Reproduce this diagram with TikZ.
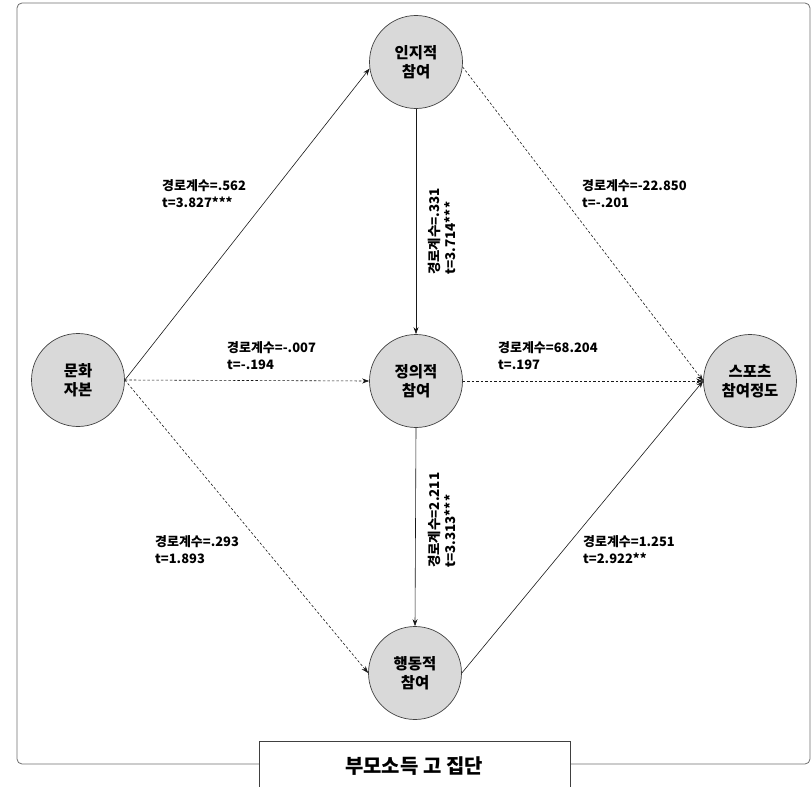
\documentclass[tikz,border=0pt]{standalone}
\usepackage{fontspec}
\setmainfont{Noto Sans CJK KR}
\usetikzlibrary{arrows.meta}
\definecolor{nodefill}{HTML}{D9D9D9}
\definecolor{framegray}{HTML}{6E6E6E}
\begin{document}
\begin{tikzpicture}[x=1bp,y=-1bp,
  circ/.style={circle, draw=black!75, fill=nodefill, line width=0.7bp, minimum size=93bp, inner sep=0pt, align=center, font=\bfseries\fontsize{15.5}{19}\selectfont},
  lbl/.style={anchor=west, align=left, inner sep=0pt, font=\bfseries\fontsize{13}{17}\selectfont},
  vlbl/.style={rotate=90, anchor=north west, align=left, inner sep=0pt, font=\bfseries\fontsize{13.5}{16.5}\selectfont},
  arr/.style={-{Stealth[length=7bp,width=5bp]}, line width=0.6bp, draw=black!90},
  dsh/.style={arr, dash pattern=on 2.5bp off 2bp},
  frame/.style={draw=framegray, line width=0.8bp, rounded corners=5bp}]
\useasboundingbox (0,0) rectangle (812,787);
% outer frame
\draw[frame] (17,3) rectangle (810,764);
% nodes
\node[circ] (inji) at (416,62) {인지적\\참여};
\node[circ] (jeong) at (416,381) {정의적\\참여};
\node[circ] (haeng) at (415,673) {행동적\\참여};
\node[circ] (munhwa) at (78,380) {문화\\자본};
\node[circ] (sports) at (750,381) {스포츠\\참여정도};
% connectors
\draw[arr] (munhwa.east) -- (inji.188);
\draw[dsh] (munhwa.east) -- (jeong.west);
\draw[dsh] (munhwa.east) -- (haeng.west);
\draw[arr] (inji.south) -- (jeong.north);
\draw[arr] (jeong.south) -- (haeng.north);
\draw[dsh] (inji.-6) -- (sports.west);
\draw[dsh] (jeong.east) -- (sports.west);
\draw[arr] (haeng.east) -- (sports.west);
% labels
\node[lbl] (l1) at (162,194) {경로계수=.562\\t=3.827***};
\node[lbl] (l2) at (582,194) {경로계수=-22.850\\t=-.201};
\node[lbl] (l3) at (227,356) {경로계수=-.007\\t=-.194};
\node[lbl] (l4) at (498,356) {경로계수=68.204\\t=.197};
\node[lbl] (l5) at (155,550) {경로계수=.293\\t=1.893};
\node[lbl] (l6) at (583,550) {경로계수=1.251\\t=2.922**};
\node[vlbl] (v1) at (428,275) {경로계수=.331\\t=3.714***};
\node[vlbl] (v2) at (428,568) {경로계수=2.211\\t=3.313***};
% title box
\fill[white] (259,741) rectangle (570,787);
\draw[draw=black!75, line width=0.8bp] (259,787) -- (259,741) -- (570,741) -- (570,787);
\node[font=\bfseries\fontsize{20}{24}\selectfont, inner sep=0pt] (title) at (414,766) {부모소득 고 집단};
\end{tikzpicture}
\end{document}
